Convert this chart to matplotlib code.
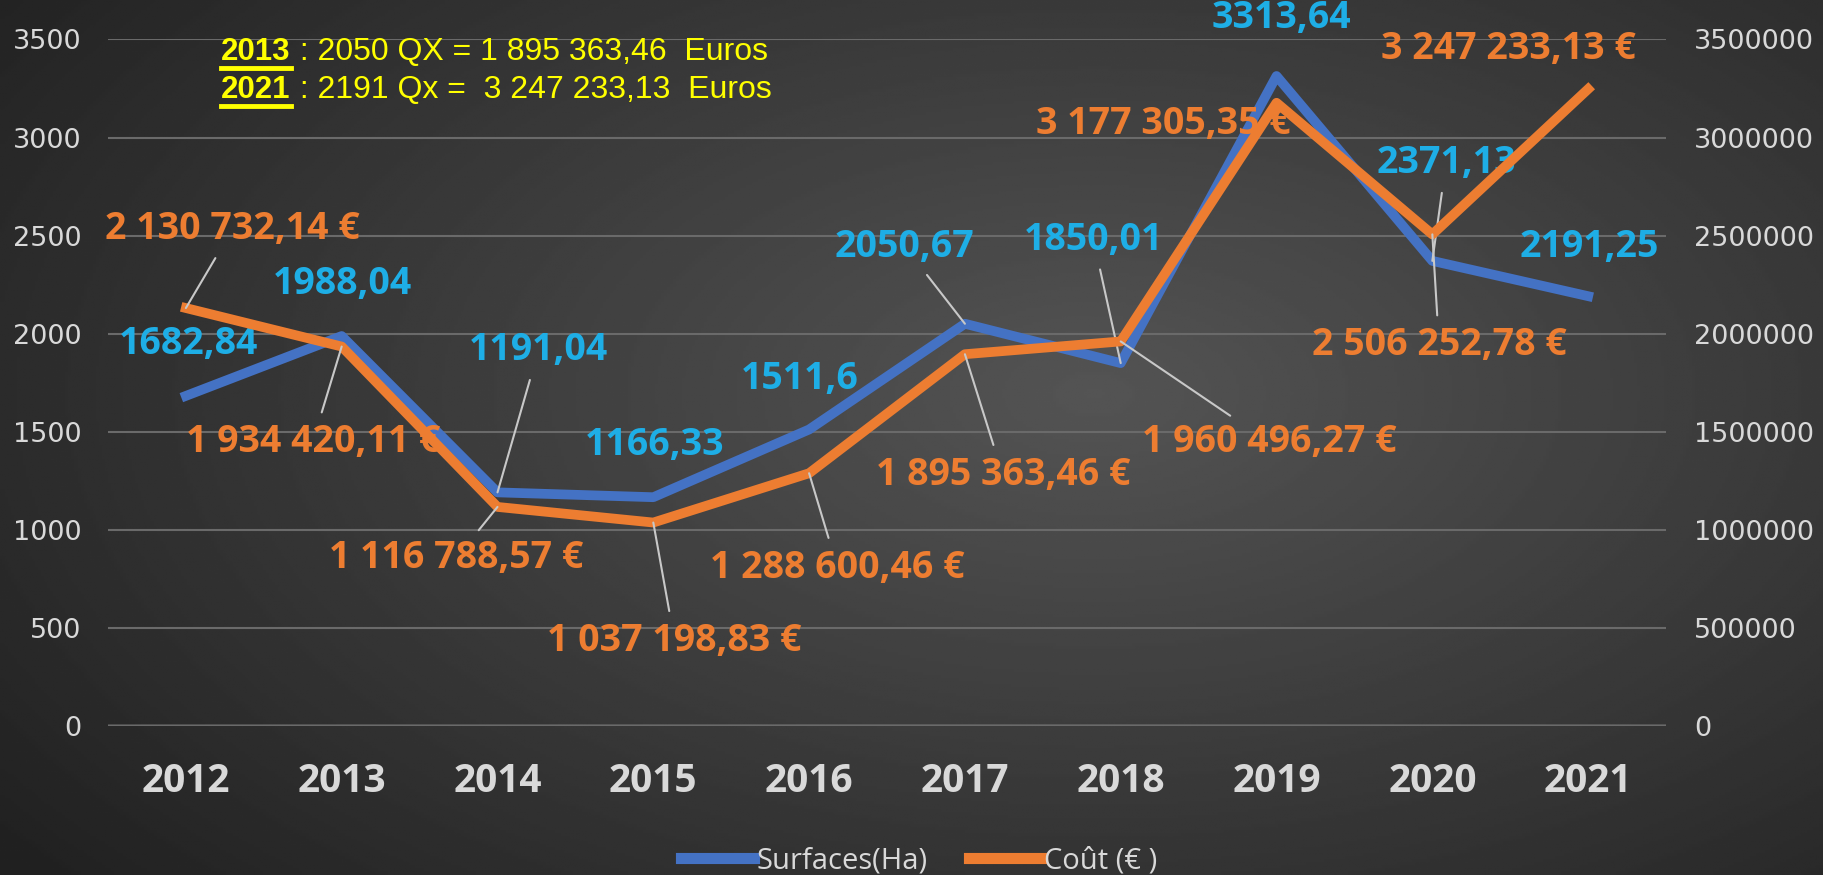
import numpy as np
import matplotlib
matplotlib.use('Agg')
import matplotlib.pyplot as plt
from matplotlib.lines import Line2D
from matplotlib.ticker import FuncFormatter

# données
annees = ['2012', '2013', '2014', '2015', '2016', '2017', '2018', '2019', '2020', '2021']
surfaces = [1682.84, 1988.04, 1191.04, 1166.33, 1511.6, 2050.67, 1850.01, 3313.64, 2371.13, 2191.25]
couts = [2130732.14, 1934420.11, 1116788.57, 1037198.83, 1288600.46, 1895363.46,
         1960496.27, 3177305.35, 2506252.78, 3247233.13]
ticks_gauche = [0, 500, 1000, 1500, 2000, 2500, 3000, 3500]
ticks_droite = [0, 500000, 1000000, 1500000, 2000000, 2500000, 3000000, 3500000]

# position des étiquettes (x, y en unités de l'axe gauche) et traits de rappel
pos_bleu = [(0.015, 1946), (1.008, 2254), (2.263, 1916), (3.01, 1430), (3.943, 1768),
            (4.615, 2444), (5.825, 2480), (7.028, 3607), (8.088, 2871), (9.007, 2444)]
trait_bleu = [False, False, True, False, False, True, True, False, True, False]
pos_orange = [(0.299, 2533), (0.814, 1447), (1.733, 854), (3.137, 433), (4.182, 807),
              (5.243, 1281), (6.953, 1447), (6.273, 3067), (8.043, 1940), (8.491, 3452)]
trait_orange = [True, True, True, True, True, True, True, False, True, False]

BLEU = '#4472c4'
ORANGE = '#ed7d31'
BLEU_TXT = '#1eaee6'
GRIS = '#d9d9d9'
POLICE = 'Open Sans'

fig = plt.figure(figsize=(18.24, 8.75), dpi=100)

# fond en dégradé radial
bg = fig.add_axes([0, 0, 1, 1], zorder=-10)
yy, xx = np.mgrid[0:1:300j, 0:1:600j]
r = np.sqrt(((xx - 0.6) / 0.75) ** 2 + ((yy - 0.45) / 0.85) ** 2)
val = np.clip(0.33 - 0.2 * r, 0.13, 0.33)
bg.imshow(val, cmap='gray', vmin=0, vmax=1, aspect='auto', extent=[0, 1, 0, 1])
bg.axis('off')

ax = fig.add_axes([0.0592, 0.1703, 0.8542, 0.7846])
ax2 = ax.twinx()
for a in (ax, ax2):
    a.patch.set_visible(False)
    for s in a.spines.values():
        s.set_visible(False)

x = np.arange(len(annees))
ax.plot(x, surfaces, color=BLEU, lw=7, label='Surfaces(Ha)', zorder=3)
ax2.plot(x, couts, color=ORANGE, lw=7, label='Coût (€ )', zorder=3)

ax.set_xlim(-0.5, len(annees) - 0.5)
ax.set_ylim(0, 3500)
ax2.set_ylim(0, 3500000)
ax.set_yticks(ticks_gauche)
ax2.set_yticks(ticks_droite)
ax2.yaxis.set_major_formatter(FuncFormatter(lambda v, p: f'{int(v)}'))
ax.set_xticks(x)
ax.set_xticklabels(annees, fontsize=28, fontweight='bold', color=GRIS, family=POLICE)
ax.tick_params(axis='x', length=0, pad=26)
ax.tick_params(axis='y', length=0, pad=19, labelsize=19.5, labelcolor=GRIS)
ax2.tick_params(axis='y', length=0, pad=20, labelsize=19.5, labelcolor=GRIS)
ax.grid(axis='y', color='#6a6a6a', lw=1.5, zorder=0)
ax.axhline(0, color='#bfbfbf', lw=2.5, zorder=1)

trait = dict(arrowstyle='-', color='#c8c8c8', lw=1.5, shrinkA=6, shrinkB=0)

for i, v in enumerate(surfaces):
    txt = f'{v:g}'.replace('.', ',')
    ax.annotate(txt, xy=(x[i], v), xytext=pos_bleu[i], textcoords='data',
                ha='center', va='center', fontsize=27, fontweight='bold',
                color=BLEU_TXT, family=POLICE, zorder=5,
                arrowprops=trait if trait_bleu[i] else None)

for i, v in enumerate(couts):
    txt = f'{v:,.2f}'.replace(',', ' ').replace('.', ',') + ' €'
    px, py = pos_orange[i]
    ax2.annotate(txt, xy=(x[i], v), xytext=(px, py * 1000), textcoords='data',
                 ha='center', va='center', fontsize=27, fontweight='bold',
                 color=ORANGE, family=POLICE, zorder=5,
                 arrowprops=trait if trait_orange[i] else None)

# légende
h = [Line2D([], [], color=BLEU, lw=8), Line2D([], [], color=ORANGE, lw=8)]
fig.legend(h, ['Surfaces(Ha)', 'Coût (€ )'], loc='center', bbox_to_anchor=(0.504, 0.016),
           ncol=2, frameon=False, handlelength=2.5, handletextpad=0.1, columnspacing=1.4,
           prop={'family': POLICE, 'size': 21}, labelcolor=GRIS)

# encadré jaune
JAUNE = '#ffff00'
police_j = ['Liberation Sans Narrow', 'Liberation Sans']
lignes = [('2013', ' : 2050 QX = 1 895 363,46  Euros', 0.9406),
          ('2021', ' : 2191 Qx =  3 247 233,13  Euros', 0.897)]
fig.canvas.draw()
rend = fig.canvas.get_renderer()
for an, reste, yl in lignes:
    t1 = fig.text(0.1212, yl, an, color=JAUNE, fontsize=22.5, fontweight='bold',
                  family=police_j, va='center')
    bb = t1.get_window_extent(rend)
    fig.text(bb.x1 / fig.bbox.width, yl, reste, color=JAUNE, fontsize=23,
             family=police_j, va='center')
    yb = (bb.y0 - 1) / fig.bbox.height
    fig.add_artist(Line2D([bb.x0 / fig.bbox.width, bb.x1 / fig.bbox.width], [yb, yb],
                          color=JAUNE, lw=3.5))

fig.savefig('out.png', dpi=100)
